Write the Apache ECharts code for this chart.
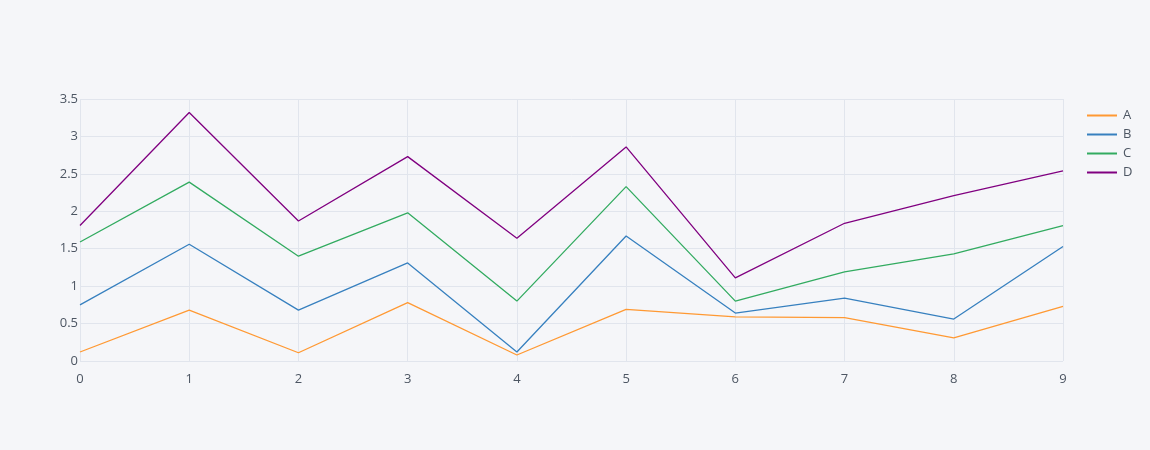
<!DOCTYPE html>
<html>
<head>
<meta charset="utf-8">
<script src="https://cdn.jsdelivr.net/npm/echarts@6/dist/echarts.min.js"></script>
<style>
  html, body { margin: 0; padding: 0; background: #F5F6F9; }
  #chart { width: 1150px; height: 450px; }
</style>
</head>
<body>
<div id="chart"></div>
<script>
// x categories and per-series values (lines are stacked)
var xValues = ['0', '1', '2', '3', '4', '5', '6', '7', '8', '9'];
var seriesNames = ['A', 'B', 'C', 'D'];
var valuesA = [0.12, 0.68, 0.11, 0.78, 0.08, 0.69, 0.59, 0.58, 0.31, 0.73];
var valuesB = [0.63, 0.88, 0.57, 0.53, 0.04, 0.98, 0.05, 0.26, 0.25, 0.80];
var valuesC = [0.84, 0.83, 0.72, 0.67, 0.68, 0.66, 0.16, 0.35, 0.87, 0.28];
var valuesD = [0.22, 0.93, 0.47, 0.75, 0.84, 0.53, 0.31, 0.65, 0.78, 0.73];
var colors = ['#FF9933', '#3780BF', '#32AB60', '#800080'];

var allValues = [valuesA, valuesB, valuesC, valuesD];

var chart = echarts.init(document.getElementById('chart'));

var labelFont = { fontFamily: 'Open Sans', fontSize: 13, color: '#4D5663' };

chart.setOption({
    backgroundColor: '#F5F6F9',
    textStyle: labelFont,
    grid: { left: 80, right: 87, top: 99, bottom: 89, containLabel: false },
    legend: {
        orient: 'vertical',
        left: 1082,
        top: 104,
        itemWidth: 30,
        itemHeight: 2,
        itemGap: 6,
        icon: 'rect',
        textStyle: { fontFamily: 'Open Sans', fontSize: 13, color: '#4D5663', padding: [0, 0, 0, 1] },
        data: seriesNames
    },
    xAxis: {
        type: 'category',
        boundaryGap: false,
        data: xValues,
        axisLine: { show: false },
        axisTick: { show: false },
        axisLabel: Object.assign({ margin: 12 }, labelFont),
        splitLine: { show: true, lineStyle: { color: '#E1E5ED', width: 1 } }
    },
    yAxis: {
        type: 'value',
        min: 0,
        max: 3.5,
        interval: 0.5,
        axisLine: { show: false },
        axisTick: { show: false },
        axisLabel: Object.assign({ margin: 2 }, labelFont),
        splitLine: { show: true, lineStyle: { color: '#E1E5ED', width: 1 } }
    },
    series: seriesNames.map(function (name, i) {
        return {
            name: name,
            type: 'line',
            stack: 'total',
            data: allValues[i],
            showSymbol: false,
            symbol: 'none',
            color: colors[i],
            lineStyle: { color: colors[i], width: 1.3 },
            animation: false
        };
    })
});
</script>
</body>
</html>
